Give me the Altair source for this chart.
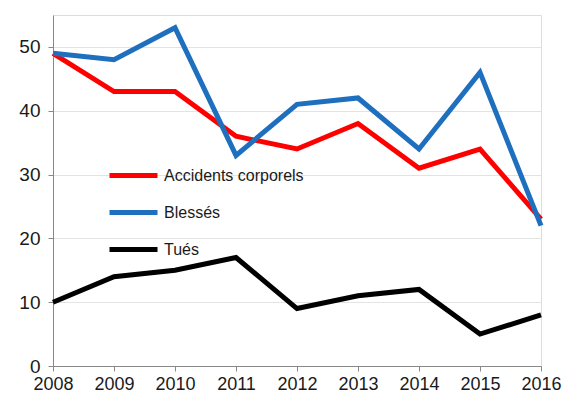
import altair as alt
import pandas as pd

years = [2008, 2009, 2010, 2011, 2012, 2013, 2014, 2015, 2016]
accidents = [49, 43, 43, 36, 34, 38, 31, 34, 23]
blesses = [49, 48, 53, 33, 41, 42, 34, 46, 22]
tues = [10, 14, 15, 17, 9, 11, 12, 5, 8]
series_names = ["Accidents corporels", "Blessés", "Tués"]
series_colors = ["#ff0000", "#1f6fbf", "#000000"]

rows = []
for name, vals in zip(series_names, [accidents, blesses, tues]):
    for y, v in zip(years, vals):
        rows.append({"Année": y, "Valeur": v, "Série": name})
df = pd.DataFrame(rows)

font = "Liberation Sans"

chart = alt.Chart(df).mark_line(strokeWidth=5, strokeJoin="miter").encode(
    x=alt.X("Année:Q",
            scale=alt.Scale(domain=[2008, 2016], nice=False, zero=False),
            axis=alt.Axis(values=years, format="d", title=None, grid=False,
                          labelFlush=False, labelOverlap=False,
                          labelFontSize=18, labelColor="#1a1a1a", labelFont=font,
                          domainColor="#888888", tickColor="#888888", tickSize=5,
                          labelPadding=4)),
    y=alt.Y("Valeur:Q",
            scale=alt.Scale(domain=[0, 55], nice=False),
            axis=alt.Axis(values=[0, 10, 20, 30, 40, 50], title=None,
                          gridColor="#e3e3e3", gridWidth=1.2,
                          labelFontSize=19, labelColor="#1a1a1a", labelFont=font,
                          domainColor="#888888", tickColor="#888888", tickSize=5,
                          labelPadding=8)),
    color=alt.Color("Série:N",
                    scale=alt.Scale(domain=series_names, range=series_colors),
                    sort=series_names,
                    legend=alt.Legend(orient="none", legendX=54, legendY=134,
                                      title=None, symbolType="stroke",
                                      symbolStrokeWidth=5, symbolSize=2304,
                                      labelFontSize=16, labelFont=font,
                                      labelColor="#1a1a1a", rowPadding=-18,
                                      labelOffset=4)),
    order=alt.Order("Série:N"),
).properties(
    width=488, height=351,
    autosize=alt.AutoSizeParams(type="none"),
    padding={"left": 45, "top": 7, "right": 22, "bottom": 30},
).configure_view(stroke=None).configure(background="white")

chart.save("out.html", embed_options={"renderer": "svg", "actions": False})
